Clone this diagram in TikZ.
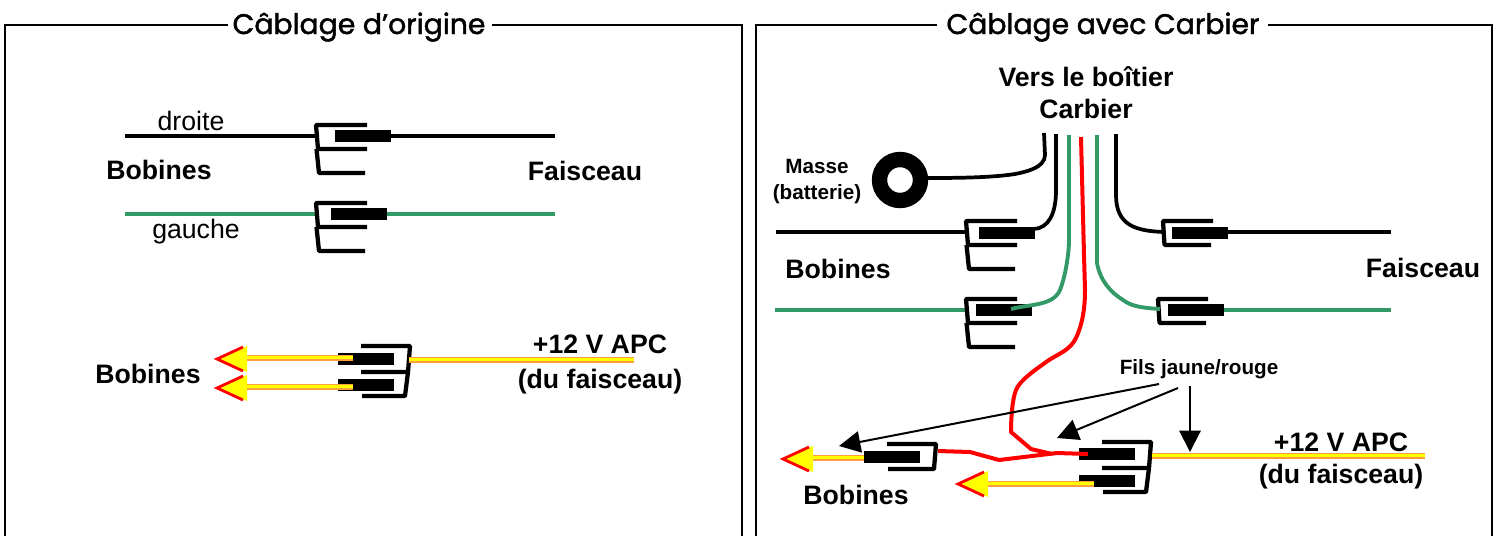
\documentclass[tikz,border=0pt]{standalone}
\usepackage{fontspec}
\setmainfont{Liberation Sans}
\newfontfamily\titlefont{Poppins}[FakeBold=1.6]
\usetikzlibrary{arrows.meta}
\definecolor{wgreen}{HTML}{339966}
\definecolor{wred}{HTML}{FF0000}
\definecolor{wyel}{HTML}{FFFF00}
\definecolor{worange}{HTML}{FFA040}
\tikzset{
  x=0.75pt,y=-0.75pt,
  frameline/.style={line width=1.2pt,black},
  ttl/.style={font=\titlefont\fontsize{21.2}{21.2}\selectfont,anchor=base,inner sep=0pt},
  lblb/.style={font=\bfseries\fontsize{20}{20}\selectfont,anchor=base,inner sep=0pt},
  lblr/.style={font=\fontsize{20}{20}\selectfont,anchor=base,inner sep=0pt},
  lblm/.style={font=\bfseries\fontsize{15.5}{15.5}\selectfont,anchor=base,inner sep=0pt},
  wireb/.style={line width=2.6pt,black},
  wireg/.style={line width=2.9pt,wgreen},
  wirer/.style={line width=3pt,wred,line join=round},
  curveb/.style={line width=2.8pt,black},
  brk/.style={line width=3.2pt,black,line join=bevel},
  barbox/.style={fill=black,draw=none},
  ptr/.style={line width=1.5pt,black,-{Triangle[length=16pt,width=16pt]}},
  pics/fork2/.style={code={
    \draw[brk] (52,0) -- (1,0) -- (3,24) -- (52,24);
    \draw[brk] (1.5,24) -- (4,48) -- (50,48);
  }},
  pics/fork1/.style={code={
    \draw[brk] (51,0) -- (1,0) -- (2.5,24) -- (49,24);
  }},
  pics/forkback/.style={code={
    \draw[brk] (-50,0) -- (-1,0) -- (-3,25) -- (-49,25);
  }},
  pics/forkback2/.style={code={
    \draw[brk] (-50,0) -- (-1,0) -- (-3,26) -- (-50,26);
    \draw[brk] (-3,26) -- (-6,50) -- (-49,50);
  }},
}
\newcommand{\wbar}[2]{\fill[barbox] (#1,#2-0.5) rectangle ++(56,12.5);}
\newcommand{\yellowwire}[3]{%
  \draw[line width=3.8pt,worange] (#1,#3) -- (#2,#3);
  \draw[line width=2.7pt,wyel] (#1,#3-0.5) -- (#2,#3-0.5);}
\newcommand{\yarrow}[2]{%
  \fill[wyel] (#1,#2) -- (#1+30,#2-13) -- (#1+30,#2+13) -- cycle;
  \draw[line width=2.1pt,wred,line join=miter] (#1+26,#2-12) -- (#1,#2) -- (#1+26,#2+12);}
\begin{document}
\begin{tikzpicture}
\useasboundingbox (0,0) rectangle (1499,536);
% frames
\node[ttl] (t1) at (359,34) {Câblage d’origine};
\node[ttl] (t2) at (1103,34) {Câblage avec Carbier};
\draw[frameline] (228,25) -- (5,25) -- (5,536);
\draw[frameline] (492,25) -- (742,25) -- (742,536);
\draw[frameline] (937,25) -- (756,25) -- (756,536);
\draw[frameline] (1268,25) -- (1492,25) -- (1492,536);
% left top
\draw[wireb] (125,136) -- (316,136);
\draw[wireb] (390,136) -- (555,136);
\wbar{335}{130}
\pic at (315,125) {fork2};
\draw[wireg] (125,214) -- (319,214);
\draw[wireg] (387,214) -- (555,214);
\wbar{331}{208}
\pic at (315,203) {fork2};
\node[lblr] (droite) at (191,130) {droite};
\node[lblr] (gauche) at (196,238) {gauche};
\node[lblb] (bob1) at (159,179) {Bobines};
\node[lblb] (fais1) at (585,180) {Faisceau};
% left bottom
\wbar{338}{353}
\wbar{338}{379}
\pic at (411,346) {forkback2};
\yarrow{217}{359}
\yarrow{217}{388}
\yellowwire{247}{353}{358}
\yellowwire{247}{353}{387}
\yellowwire{409}{634}{360}
\node[lblb] (bob2) at (148,383) {Bobines};
\node[lblb] (apc1) at (600,353) {+12 V APC};
\node[lblb] (du1) at (600,388) {(du faisceau)};
% right top
\node[lblb] (vers) at (1086,86) {Vers le boîtier};
\node[lblb] (carb) at (1086,118) {Carbier};
\node[lblm] (masse) at (817,173) {Masse};
\node[lblm] (batt) at (817,199) {(batterie)};
\draw[line width=11.5pt,black] (900,180) circle (20.5);
\draw[curveb] (1044,133) -- (1045,155) .. controls (1045,168) and (1025,172) .. (1015,174) .. controls (990,178) and (950,178) .. (925,178);
% upper left connector
\draw[wireb] (776,232) -- (966,232);
\wbar{979}{227}
\pic at (965,221) {fork2};
\draw[curveb] (1056,134) -- (1056,190) .. controls (1056,215) and (1048,228) .. (1034,229);
% upper right connector
\draw[wireb] (1220,232) -- (1391,232);
\wbar{1172}{227}
\pic at (1162,221) {fork1};
\draw[curveb] (1116,134) -- (1116,195) .. controls (1116,225) and (1135,231) .. (1164,232);
% lower left connector
\draw[wireg] (775,310) -- (967,310);
\wbar{976}{304}
\pic at (965,299) {fork2};
\draw[wireg] (1069,135) -- (1069,243) .. controls (1068,262) and (1064,280) .. (1060,290) .. controls (1053,306) and (1030,304) .. (1011,309);
% lower right connector
\draw[wireg] (1216,310) -- (1391,310);
\wbar{1168}{304}
\pic at (1157,299) {fork1};
\draw[wireg] (1097,135) -- (1097,263) .. controls (1100,280) and (1110,292) .. (1123,300) .. controls (1132,307) and (1145,308) .. (1160,309);
% right bottom
\yarrow{783}{459}
\yellowwire{813}{864}{458}
\wbar{864}{451}
\pic at (937,444) {forkback};
\wbar{1079}{448}
\wbar{1079}{475}
\pic at (1152,442) {forkback2};
\yarrow{958}{484}
\yellowwire{988}{1094}{484}
\yellowwire{1152}{1425}{456}
% red wires
\draw[wirer] (1081,137) -- (1084,255) -- (1085,290) .. controls (1085,310) and (1082,325) .. (1076,338) .. controls (1070,350) and (1060,353) .. (1049,360) .. controls (1035,370) and (1020,380) .. (1016,390) .. controls (1012,400) and (1011,420) .. (1011,432) -- (1031,449) -- (1052,454);
\draw[wirer] (938,451) -- (970,452) -- (999,460) -- (1057,453) -- (1088,454);
% pointers
\node[lblm] (fils) at (1199,374) {Fils jaune/rouge};
\coordinate (f1) at (1159,384); \coordinate (t1a) at (839,446);
\coordinate (f2) at (1178,388); \coordinate (t2a) at (1057,438);
\coordinate (f3) at (1190,386); \coordinate (t3a) at (1190,452);
\draw[ptr] (f1) -- (t1a);
\draw[ptr] (f2) -- (t2a);
\draw[ptr] (f3) -- (t3a);
\node[lblb] (apc2) at (1341,451) {+12 V APC};
\node[lblb] (du2) at (1341,483) {(du faisceau)};
\node[lblb] (bob3) at (856,504) {Bobines};
\node[lblb] (bob4) at (838,278) {Bobines};
\node[lblb] (fais2) at (1423,277) {Faisceau};
\end{tikzpicture}
\end{document}
